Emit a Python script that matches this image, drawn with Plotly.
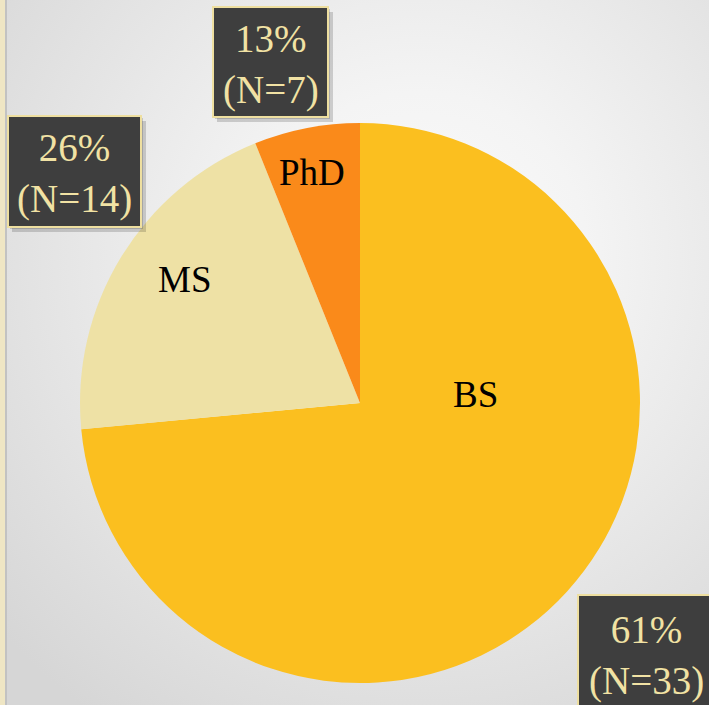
import base64
import plotly.graph_objects as go

W, H = 709, 705

# ---- data ----
degrees = ["BS", "MS", "PhD"]
slice_share = [73.5, 20.4, 6.1]           # slice sizes as drawn (percent of circle)
label_pct = ["61%", "26%", "13%"]         # percentages printed in the boxes
label_n = [33, 14, 7]                     # counts printed in the boxes

colors = ["#FBBF1F", "#EEE1A5", "#FA8A1A"]

fig = go.Figure()

fig.add_trace(go.Pie(
    labels=degrees,
    values=slice_share,
    sort=False,
    direction="clockwise",
    rotation=0,
    marker=dict(colors=colors, line=dict(width=0)),
    textinfo="none",
    hoverinfo="label+percent",
    showlegend=False,
    domain=dict(x=[80 / W, 640 / W], y=[1 - 683 / H, 1 - 123 / H]),
))

# background radial gradient as svg image
svg = f'''<svg xmlns="http://www.w3.org/2000/svg" width="{W}" height="{H}">
<defs><radialGradient id="g" cx="420" cy="260" r="560" gradientUnits="userSpaceOnUse">
<stop offset="0" stop-color="#fbfbfb"/><stop offset="0.3" stop-color="#f4f4f4"/>
<stop offset="1" stop-color="#d6d6d6"/></radialGradient></defs>
<rect width="{W}" height="{H}" fill="url(#g)"/></svg>'''
uri = "data:image/svg+xml;base64," + base64.b64encode(svg.encode()).decode()
fig.add_layout_image(dict(source=uri, xref="paper", yref="paper", x=0, y=1,
                          sizex=1, sizey=1, sizing="stretch", xanchor="left",
                          yanchor="top", layer="below"))

def px_rect(x0, y0, x1, y1, **kw):
    fig.add_shape(type="rect", xref="paper", yref="paper",
                  x0=x0 / W, x1=x1 / W, y0=1 - y1 / H, y1=1 - y0 / H, **kw)

# left border strip
px_rect(0, 0, 5, H, fillcolor="#EFE6C4", line=dict(width=0), layer="above")
px_rect(5, 0, 7, H, fillcolor="#C2C2C2", line=dict(width=0), layer="above")

# label boxes: (left, top, right, bottom) in pixels
boxes = {"PhD": (213, 7, 328, 117), "MS": (8, 116, 141, 227), "BS": (578, 595, 715, 712)}
for lab, pct, n in zip(degrees, label_pct, label_n):
    x0, y0, x1, y1 = boxes[lab]
    # shadow
    px_rect(x0 + 4, y0 + 5, x1 + 5, y1 + 5, fillcolor="rgba(0,0,0,0.16)",
            line=dict(width=0), layer="above")
    px_rect(x0 + 2, y0 + 2, x1 + 2, y1 + 2, fillcolor="rgba(0,0,0,0.16)",
            line=dict(width=0), layer="above")
    px_rect(x0, y0, x1, y1, fillcolor="#3E3E3E",
            line=dict(color="#EEDFA0", width=2), layer="above")
    fig.add_annotation(
        xref="paper", yref="paper",
        x=(x0 + x1) / 2 / W, y=1 - ((y0 + y1) / 2 + 2) / H,
        xanchor="center", yanchor="middle",
        text=f"{pct}<br>(N={n})", showarrow=False,
        font=dict(family="Liberation Serif, Times New Roman, serif", size=39, color="#F1E2A4"),
    )

# slice labels
slice_label_pos = {"PhD": (312, 172), "MS": (184, 279), "BS": (476, 394)}
for lab in degrees:
    cx, cy = slice_label_pos[lab]
    fig.add_annotation(
        xref="paper", yref="paper", x=cx / W, y=1 - cy / H,
        xanchor="center", yanchor="middle", text=lab, showarrow=False,
        font=dict(family="Liberation Serif, Times New Roman, serif", size=37, color="#000000"),
    )

fig.update_layout(
    width=W, height=H,
    margin=dict(l=0, r=0, t=0, b=0),
    paper_bgcolor="#e6e6e6",
    plot_bgcolor="rgba(0,0,0,0)",
)

fig.write_html("out.html", config={"displayModeBar": False},
               post_script="document.body.style.margin='0';document.body.style.overflow='hidden';")
